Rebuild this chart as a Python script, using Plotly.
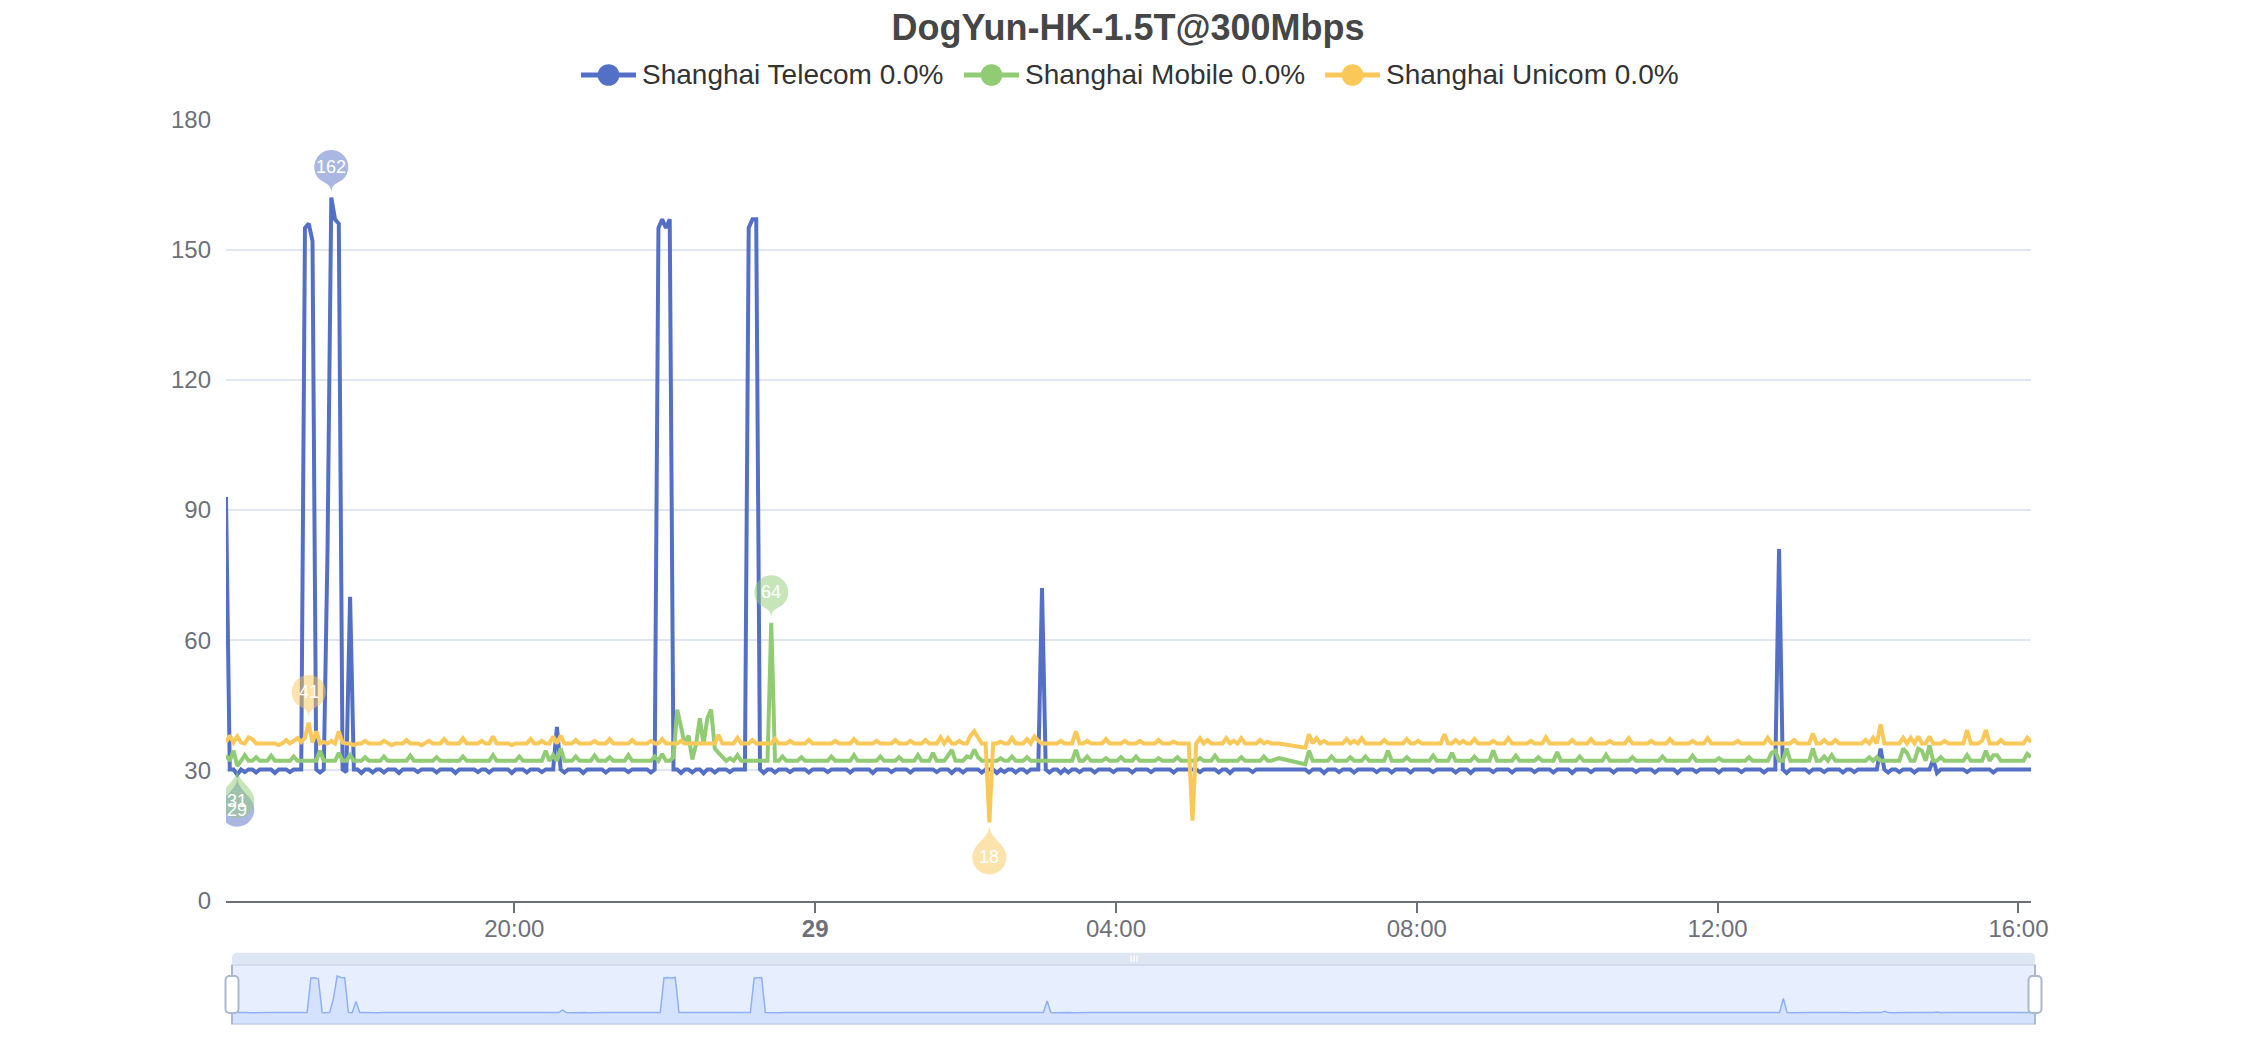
import math
from datetime import datetime, timedelta
import numpy as np
import plotly.graph_objects as go

W, H = 2256, 1040

TITLE = "DogYun-HK-1.5T@300Mbps"
SERIES_NAMES = ["Shanghai Telecom 0.0%", "Shanghai Mobile 0.0%", "Shanghai Unicom 0.0%"]
SERIES_COLORS = ["#5470c6", "#91cc75", "#fac858"]
PIN_FILLS = ["rgba(84,112,198,0.5)", "rgba(145,204,117,0.5)", "rgba(250,200,88,0.5)"]
START_TIME = "2023-06-28 16:10:00"
SAMPLE_MINUTES = 3
X_TICK_TIMES = ["2023-06-28 20:00:00", "2023-06-29 00:00:00", "2023-06-29 04:00:00",
                "2023-06-29 08:00:00", "2023-06-29 12:00:00", "2023-06-29 16:00:00"]
X_TICK_LABELS = ["20:00", "<b>29</b>", "04:00", "08:00", "12:00", "16:00"]
Y_TICKS = [0, 30, 60, 90, 120, 150, 180]

N = None
# one row = one hour (20 samples, every 3 minutes), first row starts 16:10
telecom = [
    93, 30.2, 30.2, 29, 30.2, 29.6, 30.2, 30.2, 29.5, 30.2, 30.2, 30.2, 30.2, 29.4, 30.2, 30.2, 30.2, 29.6, 30.2, 30.2,
    30.2, 155, 156, 152, 30.2, 29.5, 30.2, 81, 162, 157, 156, 30.2, 29.6, 70, 30.2, 30.2, 29.4, 30.2, 30.2, 29.5,
    30.2, 30.2, 29.5, 30.2, 30.2, 30.2, 29.4, 30.2, 30.2, 30.2, 30.2, 29.6, 30.2, 30.2, 30.2, 30.2, 29.5, 30.2, 30.2, 30.2,
    30.2, 29.4, 30.2, 30.2, 30.2, 30.2, 30.2, 29.6, 30.2, 30.2, 29.5, 30.2, 30.2, 30.2, 30.2, 30.2, 29.4, 30.2, 30.2, 30.2,
    29.5, 30.2, 30.2, 30.2, 29.6, 30.2, 30.2, 30.2, 40, 30.2, 29.5, 30.2, 30.2, 30.2, 30.2, 29.4, 30.2, 30.2, 30.2, 30.2,
    30.2, 29.5, 30.2, 30.2, 30.2, 30.2, 30.2, 29.6, 30.2, 30.2, 30.2, 30.2, 30.2, 29.5, 30.2, 155, 157, 155, 157, 30.2,
    30.2, 29.4, 30.2, 30.2, 29.5, 30.2, 30.2, 29.3, 30.2, 30.2, 29.5, 30.2, 30.2, 30.2, 29.6, 30.2, 30.2, 30.2, 30.2, 155,
    157, 157, 30.2, 29.4, 30.2, 30.2, 29.5, 30.2, 30.2, 30.2, 29.6, 30.2, 30.2, 30.2, 30.2, 29.5, 30.2, 30.2, 30.2, 30.2,
    29.6, 30.2, 30.2, 30.2, 30.2, 30.2, 29.5, 30.2, 30.2, 30.2, 30.2, 30.2, 29.4, 30.2, 30.2, 30.2, 30.2, 29.6, 30.2, 30.2,
    30.2, 30.2, 29.5, 30.2, 30.2, 30.2, 30.2, 30.2, 30.2, 29.6, 30.2, 30.2, 30.2, 29.4, 30.2, 30.2, 29.5, 30.2, 30.2, 30.2,
    30.2, 29.5, 30.2, 30.2, 30.2, 29.4, 30.2, 29.6, 30.2, 30.2, 29.5, 30.2, 30.2, 29.5, 30.2, 30.2, 30.2, 72, 30.2, 29.5,
    30.2, 30.2, 29.4, 30.2, 29.5, 30.2, 30.2, 29.6, 30.2, 30.2, 30.2, 29.5, 30.2, 30.2, 30.2, 30.2, 29.6, 30.2, 30.2, 30.2,
    30.2, 29.5, 30.2, 30.2, 30.2, 30.2, 29.6, 30.2, 30.2, 30.2, 30.2, 30.2, 29.5, 30.2, 30.2, 30.2, 30.2, 30.2, 30.2, 29.6,
    30.2, 30.2, 30.2, 30.2, 29.5, 30.2, 30.2, 29.4, 30.2, 30.2, 30.2, 30.2, 30.2, 29.6, 30.2, 30.2, 30.2, 30.2, 30.2, 30.2,
    30.2, N, N, N, N, N, N, 30.2, 29.5, 30.2, 30.2, 30.2, 29.4, 30.2, 30.2, 30.2, 29.6, 30.2, 30.2, 30.2,
    29.5, 30.2, 30.2, 30.2, 30.2, 30.2, 29.6, 30.2, 30.2, 30.2, 29.5, 30.2, 30.2, 30.2, 30.2, 29.5, 30.2, 30.2, 30.2, 30.2,
    30.2, 29.6, 30.2, 30.2, 30.2, 30.2, 30.2, 29.5, 30.2, 30.2, 30.2, 29.4, 30.2, 30.2, 30.2, 30.2, 30.2, 29.6, 30.2, 30.2,
    30.2, 30.2, 29.5, 30.2, 30.2, 30.2, 30.2, 30.2, 29.6, 30.2, 30.2, 30.2, 30.2, 29.5, 30.2, 30.2, 30.2, 30.2, 29.4, 30.2,
    30.2, 30.2, 30.2, 29.6, 30.2, 30.2, 30.2, 30.2, 30.2, 29.5, 30.2, 30.2, 30.2, 30.2, 30.2, 29.6, 30.2, 30.2, 30.2, 30.2,
    29.5, 30.2, 30.2, 30.2, 30.2, 30.2, 29.4, 30.2, 30.2, 30.2, 30.2, 29.6, 30.2, 30.2, 30.2, 30.2, 30.2, 29.5, 30.2, 30.2,
    30.2, 30.2, 30.2, 29.6, 30.2, 30.2, 30.2, 30.2, 30.2, 29.5, 30.2, 30.2, 30.2, 81, 30.2, 29.4, 30.2, 30.2, 30.2, 30.2,
    30.2, 29.5, 30.2, 30.2, 30.2, 29.6, 30.2, 30.2, 30.2, 30.2, 29.5, 30.2, 30.2, 29.6, 30.2, 30.2, 30.2, 30.2, 30.2, 30.2,
    35, 30.2, 29.5, 30.2, 30.2, 29.6, 30.2, 30.2, 30.2, 29.5, 30.2, 30.2, 30.2, 30.2, 32.5, 29.4, 30.2, 30.2, 30.2, 30.2,
    30.2, 30.2, 30.2, 29.6, 30.2, 30.2, 30.2, 30.2, 30.2, 30.2, 29.5, 30.2, 30.2, 30.2, 30.2, 30.2, 30.2, 30.2, 30.2, 30.2,
    30.2,
]
mobile = [
    33.5, 32.2, 34.5, 31, 32.2, 33.5, 32.2, 32.2, 33, 32.2, 32.2, 32.2, 33.4, 32.2, 32.2, 32.2, 32.2, 32.2, 33.2, 32.2,
    32.2, 32.2, 32.2, 32.2, 32.2, 34.5, 32.2, 32.2, 32.2, 32.2, 34, 32.2, 32.2, 33.5, 32.2, 32.2, 32.2, 33, 32.2, 32.2,
    32.2, 32.2, 33.2, 32.2, 32.2, 32.2, 32.2, 32.2, 32.2, 33.4, 32.2, 32.2, 32.2, 32.2, 32.2, 32.2, 33, 32.2, 32.2, 32.2,
    32.2, 32.2, 32.2, 33.2, 32.2, 32.2, 32.2, 32.2, 32.2, 32.2, 32.2, 33.5, 32.2, 32.2, 32.2, 32.2, 32.2, 32.2, 33.2, 32.2,
    32.2, 32.2, 32.2, 32.2, 32.2, 34.5, 32.2, 33.5, 32.2, 35, 32.2, 32.2, 32.2, 33.2, 32.2, 32.2, 32.2, 32.2, 33.4, 32.2,
    32.2, 32.2, 33, 32.2, 32.2, 32.2, 32.2, 33.5, 32.2, 32.2, 32.2, 32.2, 32.2, 32.2, 33.2, 32.2, 33.8, 32.2, 32.2, 33,
    44, 40, 36, 38, 32.5, 36, 42, 36, 42, 44, 35, 34, 33, 32.2, 32.8, 32.2, 33.5, 32.2, 32.2, 32.2,
    32.2, 32.2, 32.2, 32.2, 32.2, 64, 32.2, 32.2, 33.2, 32.2, 32.2, 32.2, 32.2, 33, 32.2, 32.2, 32.2, 32.2, 32.2, 32.2,
    32.2, 33.2, 32.2, 32.2, 32.2, 32.2, 32.2, 33.5, 32.2, 32.2, 32.2, 32.2, 32.2, 32.2, 33.2, 32.2, 32.2, 32.2, 32.2, 33,
    32.2, 32.2, 32.2, 32.2, 33.5, 32.2, 32.2, 32.2, 34, 32.2, 32.2, 32.2, 33.4, 34.7, 32.2, 32.2, 32.2, 33.2, 33, 34.8,
    33, 32.2, 32.2, 32.2, 32.2, 32.2, 32.8, 32.2, 32.2, 33.2, 32.2, 32.2, 32.2, 33, 32.2, 32.2, 32.2, 32.2, 32.2, 32.2,
    32.2, 32.2, 32.2, 32.2, 32.2, 32.2, 34.7, 32.2, 32.2, 33.2, 32.2, 32.2, 32.2, 32.2, 32.8, 32.2, 32.2, 32.2, 33, 32.2,
    32.2, 32.2, 33.2, 32.2, 32.2, 32.2, 32.2, 32.2, 32.8, 32.2, 32.2, 32.2, 32.2, 33, 32.2, 32.2, 32.2, 32.2, 32.2, 32.8,
    32.2, 32.2, 32.2, 33.4, 32.2, 32.2, 32.2, 32.2, 32.2, 32.2, 33, 32.2, 32.2, 32.2, 32.2, 32.2, 33.2, 32.2, 32.2, 32.6,
    32.8, N, N, N, N, N, N, 31.4, 34.5, 32.2, 32.2, 32.2, 32.2, 32.2, 33.2, 32.2, 32.2, 32.2, 32.2, 33,
    32.2, 32.2, 32.2, 33.2, 32.2, 32.2, 32.2, 32.2, 32.2, 34.5, 32.2, 32.2, 32.2, 32.2, 33, 32.2, 32.2, 32.2, 32.2, 32.2,
    32.2, 33.4, 32.2, 32.2, 32.2, 32.2, 34, 32.2, 32.2, 32.2, 32.2, 32.2, 33.2, 32.2, 32.2, 32.2, 32.2, 34.6, 32.2, 32.2,
    32.2, 32.2, 32.2, 33.4, 32.2, 32.2, 32.2, 32.2, 32.2, 33, 32.2, 32.2, 32.2, 32.2, 34.2, 32.2, 32.2, 32.2, 32.2, 32.2,
    33.2, 32.2, 32.2, 32.2, 32.2, 32.2, 32.2, 33.6, 32.2, 32.2, 32.2, 32.2, 32.2, 32.2, 33, 32.2, 32.2, 32.2, 32.2, 32.2,
    32.2, 32.2, 33.2, 32.2, 32.2, 32.2, 32.2, 32.2, 32.2, 32.2, 33.4, 32.2, 32.2, 32.2, 32.2, 32.2, 32.2, 32.8, 32.2, 32.2,
    32.2, 32.2, 32.2, 32.2, 32.2, 33, 32.2, 32.2, 32.2, 32.2, 32.2, 34, 34.5, 32.2, 32.2, 35, 32.2, 32.2, 32.2, 32.2,
    32.2, 32.2, 35, 32.2, 32.2, 33.2, 32.2, 33.5, 32.2, 32.2, 32.2, 32.2, 32.2, 32.2, 32.2, 32.2, 32.2, 33, 32.2, 33,
    32.2, 32.2, 32.2, 32.2, 32.2, 32.2, 35, 34, 32.2, 32.2, 35, 34.5, 32.2, 35.8, 32.2, 32.2, 33, 32.2, 32.2, 32.2,
    32.2, 32.2, 32.2, 33.5, 32.2, 32.2, 32.2, 32.2, 34.5, 32.2, 33.5, 33.5, 32.2, 32.2, 32.2, 32.2, 32.2, 32.2, 32.2, 33.8,
    33,
]
unicom = [
    36.5, 38, 36.4, 37.8, 36.4, 36.2, 37.6, 37.2, 36.2, 36.2, 36.2, 36.2, 36.2, 36.2, 35.8, 36.2, 37, 36.2, 36.8, 37.4,
    36.5, 37.5, 41, 36.4, 39, 36.2, 36.5, 36.2, 36.8, 36.2, 39, 36.4, 36.2, 36.2, 35.8, 36.2, 36.2, 36.8, 36.2, 36.2,
    36.2, 36.2, 36.8, 36.2, 35.8, 36.2, 36.2, 36.2, 37, 36.2, 36.2, 36.2, 35.8, 36.2, 36.8, 36.2, 36.2, 36.2, 37.2, 36.2,
    36.2, 36.2, 36.2, 37.4, 36.2, 36.2, 36.2, 36.2, 36.8, 36.2, 36.2, 37.8, 36.2, 36.2, 36.2, 36.2, 35.8, 36.2, 36.2, 36.2,
    36.2, 37.2, 36.2, 36.2, 36.8, 36.2, 36.2, 37.8, 36.2, 38, 36.2, 36.2, 36.2, 37, 36.2, 36.2, 36.2, 36.2, 36.8, 36.2,
    36.2, 36.2, 37.2, 36.2, 36.2, 36.2, 36.2, 36.2, 37, 36.2, 36.2, 36.2, 36.2, 36.8, 36.2, 36.2, 37.2, 36.2, 36.2, 36.2,
    36.2, 36.8, 36.2, 36.2, 36.2, 36.2, 36.2, 36.2, 36.2, 36.2, 36.2, 38.2, 36.2, 36.2, 36.2, 36.2, 37.5, 36.2, 36.2, 36.2,
    37, 36.2, 36.2, 36.2, 36.2, 36.2, 37.3, 36.2, 36.2, 36.2, 36.8, 36.2, 36.2, 36.2, 36.2, 37, 36.2, 36.2, 36.2, 36.2,
    36.2, 36.2, 36.8, 36.2, 36.2, 36.2, 36.2, 37.2, 36.2, 36.2, 36.2, 36.2, 36.2, 36.8, 36.2, 36.2, 36.2, 36.2, 37, 36.2,
    36.2, 36.2, 36.8, 36.2, 36.2, 36.2, 37, 36.2, 36.2, 36.2, 37.6, 36.2, 37.4, 36.2, 36.2, 36.8, 36.2, 36.2, 38, 39,
    37.5, 36.2, 36.2, 18, 36.2, 36.2, 36.6, 36.2, 36.2, 37.5, 36.2, 36.2, 36.2, 37.2, 36.2, 37.8, 36.8, 36.2, 36.2, 36.2,
    36.2, 36.2, 36.8, 36.2, 36.2, 36.2, 39, 36.2, 36.2, 36.8, 36.2, 36.2, 36.2, 36.2, 37.2, 36.2, 36.2, 36.2, 36.2, 36.8,
    36.2, 36.2, 36.2, 36.8, 36.2, 36.2, 36.2, 36.2, 37, 36.2, 36.2, 36.2, 36.6, 36.2, 36.2, 36.2, 36.2, 18.4, 36.2, 37.4,
    36.2, 37, 36.2, 36.2, 36.2, 36.2, 37.4, 36.2, 36.8, 36.2, 37.4, 36.2, 36.2, 36.2, 36.2, 37, 36.2, 36.6, 36.2, 36.2,
    36.2, N, N, N, N, N, N, 35.2, 38.3, 36.2, 37.4, 36.2, 36.8, 36.2, 36.2, 36.2, 36.2, 36.2, 37.2, 36.2,
    36.8, 36.2, 37.4, 36.2, 36.2, 36.2, 36.2, 36.2, 37, 36.2, 36.2, 36.2, 36.2, 36.2, 37.2, 36.2, 36.2, 36.8, 36.2, 36.2,
    36.2, 36.2, 36.2, 36.2, 38.3, 36.2, 36.2, 37, 36.2, 36.8, 36.2, 36.2, 37.2, 36.2, 36.2, 36.2, 36.2, 36.8, 36.2, 36.2,
    36.2, 37.4, 36.2, 36.2, 36.2, 36.2, 36.2, 36.8, 36.2, 36.2, 36.2, 37.6, 36.2, 36.2, 36.2, 36.2, 36.2, 36.2, 37, 36.2,
    36.2, 36.2, 36.2, 37.2, 36.2, 36.2, 36.2, 36.2, 36.8, 36.2, 36.2, 36.2, 36.2, 37.4, 36.2, 36.2, 36.2, 36.2, 36.2, 36.8,
    36.2, 36.2, 36.2, 36.2, 37.2, 36.2, 36.2, 36.2, 36.2, 36.2, 36.8, 36.2, 36.2, 36.2, 37.4, 36.2, 36.2, 36.2, 36.2, 36.2,
    36.2, 36.2, 36.8, 36.2, 36.2, 36.2, 36.2, 36.2, 36.2, 36.2, 37.5, 36.2, 36.2, 36.2, 36.2, 36.2, 36.2, 37, 36.2, 36.2,
    36.2, 36.2, 38.5, 36.2, 36.2, 37, 36.2, 36.2, 37, 36.2, 36.2, 36.2, 36.2, 36.2, 36.2, 36.2, 37, 36.2, 37.5, 36.2,
    40.6, 36.2, 36.2, 36.2, 36.2, 36.2, 37.5, 36.2, 37.5, 36.2, 37.8, 36.2, 36.2, 37.8, 36.2, 36.2, 36.2, 36.8, 36.2, 36.2,
    36.2, 36.2, 36.2, 39.3, 36.2, 36.2, 36.2, 36.8, 39.3, 36.2, 36.2, 36.2, 37, 36.2, 36.2, 36.2, 36.2, 36.2, 36.2, 37.5,
    36.5,
]
SERIES = [telecom, mobile, unicom]

FONT = "Liberation Sans, Arial, Helvetica, sans-serif"


def fx(px):
    return px / W


def fy(py):
    return 1 - py / H


t0 = datetime.strptime(START_TIME, "%Y-%m-%d %H:%M:%S")


def times_for(vals):
    return [(t0 + timedelta(minutes=SAMPLE_MINUTES * i)).strftime("%Y-%m-%d %H:%M:%S")
            for i in range(len(vals))]


t_end = times_for(telecom)[-1]

fig = go.Figure()

# main series
for name, vals, col in zip(SERIES_NAMES, SERIES, SERIES_COLORS):
    fig.add_trace(go.Scatter(
        x=times_for(vals), y=vals, mode="lines", name=name,
        line=dict(color=col, width=4), connectgaps=True,
        showlegend=False, hoverinfo="skip", xaxis="x", yaxis="y"))

# data zoom slider shadow (first series)
tel = np.array([np.nan if v is None else v for v in telecom], dtype=float)
ext = np.nanmax(tel) - np.nanmin(tel)
sl_lo, sl_hi = np.nanmin(tel) - 0.3 * ext, np.nanmax(tel) + 0.3 * ext
fig.add_trace(go.Scatter(x=[START_TIME, t_end], y=[sl_lo, sl_lo], mode="lines",
                         line=dict(width=0, color="rgba(0,0,0,0)"), showlegend=False,
                         hoverinfo="skip", xaxis="x2", yaxis="y2"))
fig.add_trace(go.Scatter(x=times_for(telecom), y=telecom, mode="lines", connectgaps=True,
                         line=dict(color="#8fb0f7", width=1.5), fill="tonexty",
                         fillcolor="rgba(143,176,247,0.2)", showlegend=False,
                         hoverinfo="skip", xaxis="x2", yaxis="y2"))


# ---- mark-point pins ----
def pin_path(r, c, tip, sign):
    u = (c + math.sqrt(c * c + 4 * r * r)) / 2
    dy = r * r / u
    a = math.asin(dy / r)
    dx = r * math.cos(a)
    tx, ty = math.sin(a), math.cos(a)
    cp1, cp2 = 0.6 * r, 0.7 * r

    def P(x, y):
        return f"{x:.2f},{sign * (y + tip):.2f}"

    s = f"M{P(-dx, c - dy)}"
    th_s = math.pi + a
    span = math.pi + 2 * a
    n = 4
    phi = span / n
    k = 4 / 3 * math.tan(phi / 4) * r
    for i in range(n):
        a1 = th_s - i * phi
        a2 = a1 - phi
        p0 = (r * math.cos(a1), c + r * math.sin(a1))
        p3 = (r * math.cos(a2), c + r * math.sin(a2))
        p1 = (p0[0] + k * math.sin(a1), p0[1] - k * math.cos(a1))
        p2 = (p3[0] - k * math.sin(a2), p3[1] + k * math.cos(a2))
        s += f" C{P(*p1)} {P(*p2)} {P(*p3)}"
    s += f" C{P(dx - tx * cp1, c - dy - ty * cp1)} {P(0, cp2)} {P(0, 0)}"
    s += f" C{P(0, cp2)} {P(-dx + tx * cp1, c - dy - ty * cp1)} {P(-dx, c - dy)} Z"
    return s


PIN_R = 17
PIN_MAX = dict(c=26, tip=4.5, sign=1)
PIN_MIN = dict(c=33, tip=2, sign=-1)

shapes = []
annotations = []
for vals, fillc in zip(SERIES, PIN_FILLS):
    arr = np.array([np.nan if v is None else v for v in vals], dtype=float)
    ts = times_for(vals)
    for idx, prm in ((int(np.nanargmax(arr)), PIN_MAX), (int(np.nanargmin(arr)), PIN_MIN)):
        v = float(arr[idx])
        shapes.append(dict(type="path", xref="x", yref="y", xsizemode="pixel", ysizemode="pixel",
                           xanchor=ts[idx], yanchor=v,
                           path=pin_path(PIN_R, prm["c"], prm["tip"], prm["sign"]),
                           fillcolor=fillc, line=dict(width=0), layer="above"))
        annotations.append(dict(x=ts[idx], y=v, xref="x", yref="y", text=f"{v:g}", showarrow=False,
                                yshift=prm["sign"] * (prm["c"] + prm["tip"]),
                                xanchor="center", yanchor="middle",
                                font=dict(size=18, color="white", family=FONT)))


# ---- figure-pixel helpers ----
def pxp(x, y):
    return f"{x:.2f},{-y:.2f}"


def rrect(x0, y0, x1, y1, rt, rb):
    kt, kb = 0.5523 * rt, 0.5523 * rb
    return (f"M{pxp(x0 + rt, y0)} L{pxp(x1 - rt, y0)} "
            f"C{pxp(x1 - rt + kt, y0)} {pxp(x1, y0 + rt - kt)} {pxp(x1, y0 + rt)} "
            f"L{pxp(x1, y1 - rb)} C{pxp(x1, y1 - rb + kb)} {pxp(x1 - rb + kb, y1)} {pxp(x1 - rb, y1)} "
            f"L{pxp(x0 + rb, y1)} C{pxp(x0 + rb - kb, y1)} {pxp(x0, y1 - rb + kb)} {pxp(x0, y1 - rb)} "
            f"L{pxp(x0, y0 + rt)} C{pxp(x0, y0 + rt - kt)} {pxp(x0 + rt - kt, y0)} {pxp(x0 + rt, y0)} Z")


def fig_path(path, layer, **kw):
    return dict(type="path", xref="paper", yref="paper", xsizemode="pixel", ysizemode="pixel",
                xanchor=0, yanchor=1, path=path, layer=layer, **kw)


# ---- legend (line + circle icon, text) ----
LEG_Y = 75
LEG_ICON_X = [581, 964, 1325]
LEG_ICON_W, LEG_DOT_R = 55, 10.8
for name, col, x0 in zip(SERIES_NAMES, SERIES_COLORS, LEG_ICON_X):
    shapes.append(dict(type="line", xref="paper", yref="paper", x0=fx(x0), x1=fx(x0 + LEG_ICON_W),
                       y0=fy(LEG_Y), y1=fy(LEG_Y), line=dict(color=col, width=5), layer="above"))
    cx = x0 + LEG_ICON_W / 2
    shapes.append(dict(type="circle", xref="paper", yref="paper",
                       x0=fx(cx - LEG_DOT_R), x1=fx(cx + LEG_DOT_R),
                       y0=fy(LEG_Y + LEG_DOT_R), y1=fy(LEG_Y - LEG_DOT_R),
                       fillcolor=col, line=dict(width=0), layer="above"))
    annotations.append(dict(x=fx(x0 + LEG_ICON_W + 4), y=fy(LEG_Y), xref="paper", yref="paper",
                            text=name, showarrow=False, xanchor="left", yanchor="middle",
                            font=dict(size=28, color="#333333", family=FONT)))

# ---- slider decoration ----
SL_X0, SL_X1 = 232, 2035
SL_TOP, SL_Y0, SL_Y1 = 952.7, 965, 1024
shapes.append(fig_path(rrect(SL_X0, SL_TOP, SL_X1, SL_Y0, 5, 0), "below",
                       fillcolor="rgba(210,219,238,0.7)", line=dict(width=0)))
shapes.append(fig_path(rrect(SL_X0, SL_Y0, SL_X1, SL_Y1, 0, 0), "below",
                       fillcolor="rgba(135,175,255,0.2)", line=dict(color="#d2dbee", width=2)))
for gx in (1131, 1134, 1137):
    shapes.append(dict(type="line", xref="paper", yref="paper", x0=fx(gx), x1=fx(gx),
                       y0=fy(955.5), y1=fy(962), line=dict(color="white", width=1.3), layer="above"))
for ex in (SL_X0, SL_X1):
    shapes.append(dict(type="line", xref="paper", yref="paper", x0=fx(ex), x1=fx(ex),
                       y0=fy(SL_Y0), y1=fy(SL_Y1), line=dict(color="#acb8d1", width=2), layer="above"))
    shapes.append(fig_path(rrect(ex - 6.5, 976, ex + 6.5, 1013, 4, 4), "above",
                           fillcolor="white", line=dict(color="#acb8d1", width=2)))

fig.update_layout(
    width=W, height=H,
    margin=dict(l=0, r=0, t=0, b=0, autoexpand=False),
    paper_bgcolor="white", plot_bgcolor="rgba(0,0,0,0)",
    font=dict(family=FONT),
    title=dict(text=TITLE, x=0.5, xanchor="center", y=fy(27), yanchor="middle",
               font=dict(size=36, color="#464646", family=FONT, weight="bold")),
    showlegend=False,
    xaxis=dict(domain=[fx(226), fx(2031)], type="date", range=[START_TIME, t_end],
               tickmode="array", tickvals=X_TICK_TIMES, ticktext=X_TICK_LABELS,
               ticks="outside", ticklen=10, tickwidth=2, tickcolor="#6E7079",
               showline=True, linewidth=2, linecolor="#6E7079", showgrid=False, zeroline=False,
               tickfont=dict(size=24, color="#6E7079", family=FONT), ticklabelstandoff=-4,
               automargin=False, fixedrange=True, anchor="y"),
    yaxis=dict(domain=[fy(900.5), fy(119.5)], range=[0, 180], tickmode="array", tickvals=Y_TICKS,
               showgrid=True, gridcolor="#E0E6F1", gridwidth=2, zeroline=False, showline=False,
               ticks="", tickfont=dict(size=24, color="#6E7079", family=FONT),
               ticklabelstandoff=14, automargin=False, fixedrange=True, anchor="x"),
    xaxis2=dict(domain=[fx(SL_X0), fx(SL_X1)], type="date", range=[START_TIME, t_end],
                visible=False, automargin=False, fixedrange=True, anchor="y2"),
    yaxis2=dict(domain=[fy(SL_Y1), fy(SL_Y0)], range=[sl_lo, sl_hi], visible=False,
                automargin=False, fixedrange=True, anchor="x2"),
    shapes=shapes,
    annotations=annotations,
    hovermode=False,
)

fig.write_html("out.html", config={"displayModeBar": False},
               post_script="document.body.style.margin='0';document.body.style.overflow='hidden';")
